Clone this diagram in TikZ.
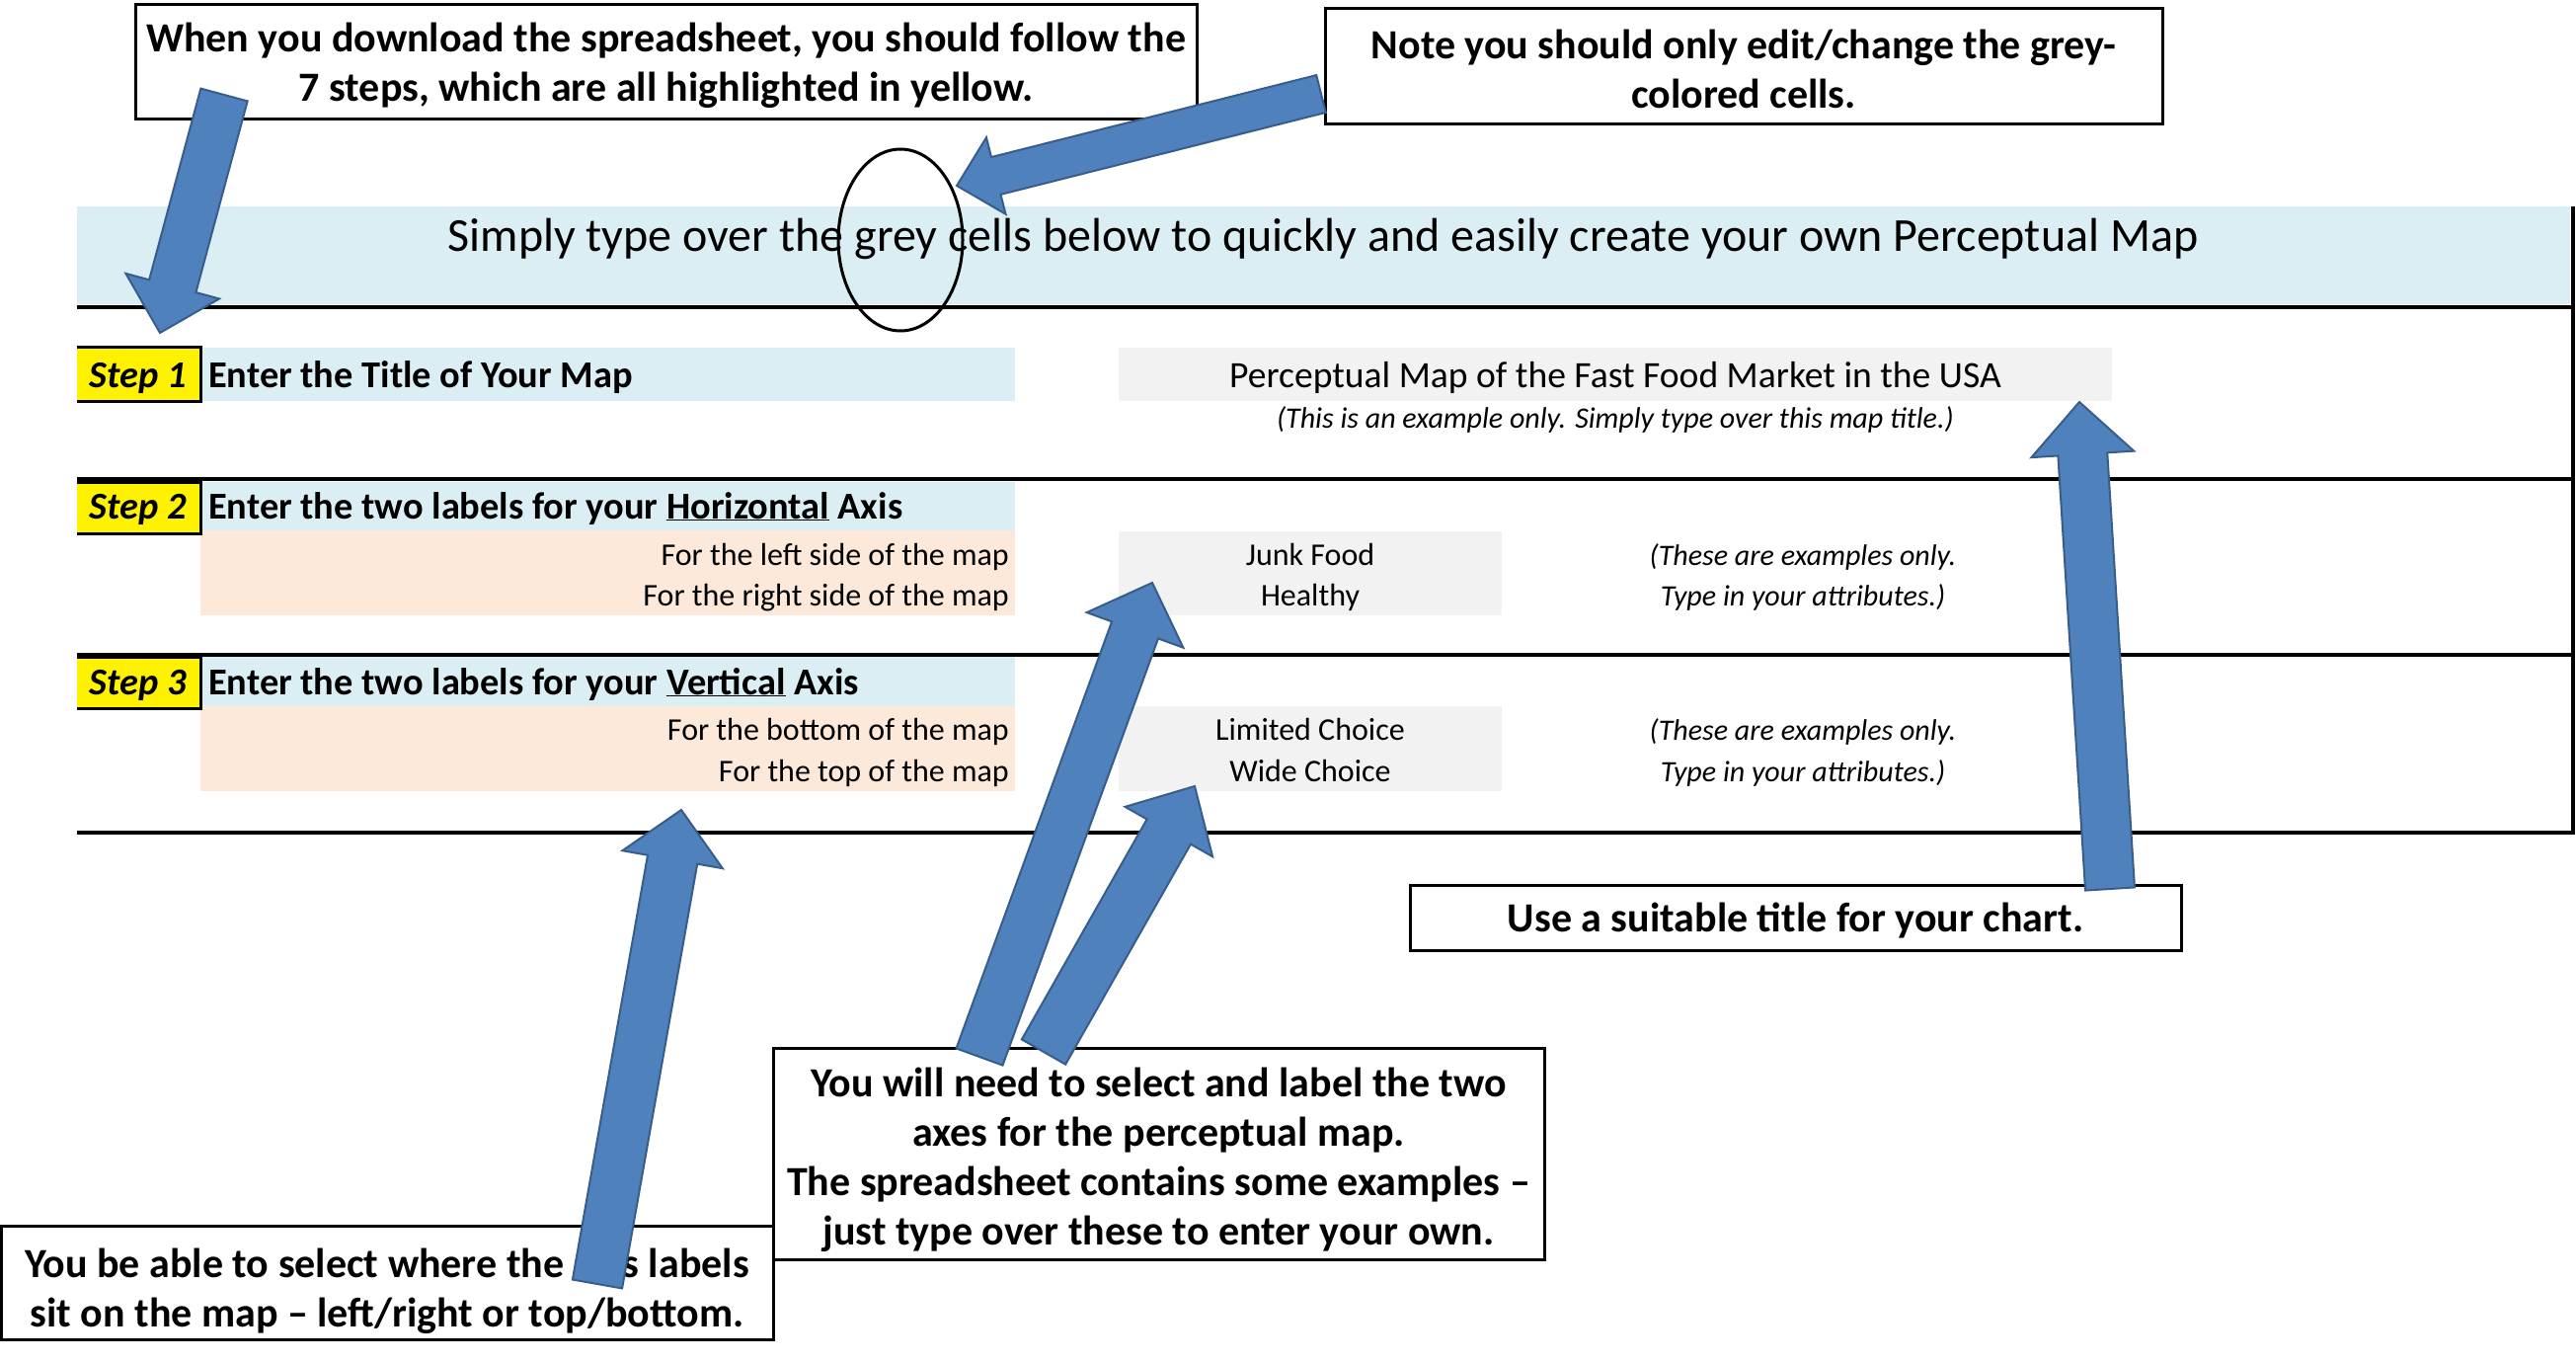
\documentclass[tikz,border=0pt]{standalone}
\usepackage{fontspec}
\setmainfont{Carlito}
\usepackage{tikz}
\usetikzlibrary{calc,positioning}

\definecolor{bannerblue}{RGB}{218,238,243}
\definecolor{cellorange}{RGB}{253,233,217}
\definecolor{cellgrey}{RGB}{242,242,242}
\definecolor{arrowblue}{RGB}{79,129,189}
\definecolor{arrowline}{RGB}{56,93,138}

% tail, tip, half shaft, half head, head length
\newcommand{\blockarrow}[5]{%
\coordinate (hb) at ($(#2)!#5!(#1)$);
\filldraw[bigarrow] ($(#1)!#3!90:(#2)$) -- ($(hb)!#3!90:(#2)$) -- ($(hb)!#4!90:(#2)$) -- (#2)
  -- ($(hb)!#4!-90:(#2)$) -- ($(hb)!#3!-90:(#2)$) -- ($(#1)!#3!-90:(#2)$) -- cycle;
}

\begin{document}
\begin{tikzpicture}[x=1pt,y=-1pt]
\tikzstyle{callout} = [draw,line width=3pt,fill=white,inner sep=0pt]
\tikzstyle{boxtext} = [align=center,inner sep=0pt,font=\fontsize{42}{50}\selectfont\bfseries]
\tikzstyle{rowline} = [line width=4pt]
\tikzstyle{bigarrow} = [fill=arrowblue,draw=arrowline,line width=2pt,line join=miter]
\tikzstyle{steptag} = [anchor=base,inner sep=0pt,font=\fontsize{38.4}{42}\selectfont\bfseries\itshape]
\tikzstyle{steptext} = [anchor=base west,inner sep=0pt,font=\fontsize{38.4}{42}\selectfont\bfseries]
\tikzstyle{sidetext} = [anchor=base east,inner sep=0pt,font=\fontsize{32}{38}\selectfont]
\tikzstyle{example} = [anchor=base,inner sep=0pt,font=\fontsize{32}{38}\selectfont]
\tikzstyle{hint} = [anchor=base,inner sep=0pt,font=\fontsize{30}{36}\selectfont\itshape]

\useasboundingbox (0,0) rectangle (2609,1380);

% the sheet
\fill[bannerblue] (78,209) rectangle (2603,308);
\node[anchor=base,inner sep=0pt,font=\fontsize{48}{54}\selectfont] (banner) at (1340,255)
  {Simply type over the grey cells below to quickly and easily create your own Perceptual Map};

\fill[bannerblue] (203,352) rectangle (1028,406);
\fill[bannerblue] (203,488) rectangle (1028,537);
\fill[cellorange] (203,537) rectangle (1028,623);
\fill[bannerblue] (203,665) rectangle (1028,715);
\fill[cellorange] (203,715) rectangle (1028,801);
\fill[cellgrey] (1133,352) rectangle (2139,406);
\fill[cellgrey] (1133,538) rectangle (1521,623);
\fill[cellgrey] (1133,715) rectangle (1521,801);

\fill[yellow] (78,351) rectangle (203,406);
\fill[yellow] (78,488) rectangle (203,540);
\fill[yellow] (78,665) rectangle (203,717);
\draw[line width=3pt] (78,351) -- (203,351) -- (203,406) -- (78,406);
\draw[line width=3pt] (78,488) -- (203,488) -- (203,540) -- (78,540);
\draw[line width=3pt] (78,665) -- (203,665) -- (203,717) -- (78,717);

\draw[rowline] (78,311) -- (2606,311);
\draw[rowline] (78,485) -- (2606,485);
\draw[rowline] (78,663) -- (2606,663);
\draw[rowline] (78,843) -- (2606,843);
\draw[rowline] (2606,209) -- (2606,845);

\node[steptag] (tag1) at (140,392) {Step 1};
\node[steptag] (tag2) at (140,525) {Step 2};
\node[steptag] (tag3) at (140,703) {Step 3};
\node[steptext] (title) at (211,392) {Enter the Title of Your Map};
\node[steptext] (horiz) at (211,525) {Enter the two labels for your \underline{Horizontal} Axis};
\node[steptext] (vert) at (211,703) {Enter the two labels for your \underline{Vertical} Axis};

\node[sidetext] (left) at (1022,572) {For the left side of the map};
\node[sidetext] (right) at (1022,613) {For the right side of the map};
\node[sidetext] (bottom) at (1022,749) {For the bottom of the map};
\node[sidetext] (top) at (1022,791) {For the top of the map};

\node[example,font=\fontsize{37.6}{42}\selectfont] (mapname) at (1636,392) {Perceptual Map of the Fast Food Market in the USA};
\node[hint] (mapnote) at (1636,433) {(This is an example only. Simply type over this map title.)};
\node[example] (junk) at (1327,572) {Junk Food};
\node[example] (healthy) at (1327,613) {Healthy};
\node[example] (limited) at (1327,749) {Limited Choice};
\node[example] (wide) at (1327,791) {Wide Choice};
\node[hint] (hnote1) at (1826,572) {(These are examples only.};
\node[hint] (hnote2) at (1826,613) {Type in your attributes.)};
\node[hint] (vnote1) at (1826,749) {(These are examples only.};
\node[hint] (vnote2) at (1826,791) {Type in your attributes.)};

\draw[line width=3pt] (912,243) ellipse [x radius=63, y radius=92];

% the call-outs
\node[callout,minimum width=1075pt,minimum height=116pt] (download) at (674.5,63) {};
\node[boxtext] (downloadtext) at ([yshift=-3pt]download.center)
  {When you download the spreadsheet, you should follow the\\7 steps, which are all highlighted in yellow.};
\node[callout,minimum width=848pt,minimum height=117pt] (greynote) at (1766,67.5) {};
\node[boxtext] (greynotetext) at ([yshift=-2pt]greynote.center)
  {Note you should only edit/change the grey-\\colored cells.};
\node[callout,minimum width=781pt,minimum height=66pt] (suitable) at (1818.5,929) {};
\node[boxtext] (suitabletext) at ([yshift=-3pt]suitable.center)
  {Use a suitable title for your chart.};
\node[callout,minimum width=781pt,minimum height=214pt] (axes) at (1173.5,1168) {};
\node[boxtext] (axestext) at ([yshift=-6pt]axes.center)
  {You will need to select and label the two\\axes for the perceptual map.\\The spreadsheet contains some examples --\\just type over these to enter your own.};
\node[callout,minimum width=782pt,minimum height=115pt] (where) at (392,1298.5) {};
\node[boxtext] (wheretext) at ([yshift=-9pt]where.center)
  {You be able to select where the axis labels\\sit on the map -- left/right or top/bottom.};

\coordinate (stepstail) at (227,96);
\coordinate (stepstip) at (162,337);
\coordinate (greytail) at (1338,95);
\coordinate (greytip) at (969,188);
\coordinate (titletail) at (2137,900);
\coordinate (titletip) at (2106,407);
\coordinate (horiztail) at (992,1070);
\coordinate (horiztip) at (1167,590);
\coordinate (verttail) at (1057,1065);
\coordinate (verttip) at (1210,796);
\coordinate (wheretail) at (605,1300);
\coordinate (wheretip) at (690,820);

\blockarrow{stepstail}{stepstip}{24.5pt}{49pt}{49pt}
\blockarrow{greytail}{greytip}{19.5pt}{40pt}{41pt}
\blockarrow{titletail}{titletip}{25pt}{52pt}{53pt}
\blockarrow{horiztail}{horiztip}{25pt}{52pt}{51pt}
\blockarrow{verttail}{verttip}{25.5pt}{51pt}{53pt}
\blockarrow{wheretail}{wheretip}{25.5pt}{51.5pt}{51pt}

\end{tikzpicture}
\end{document}
